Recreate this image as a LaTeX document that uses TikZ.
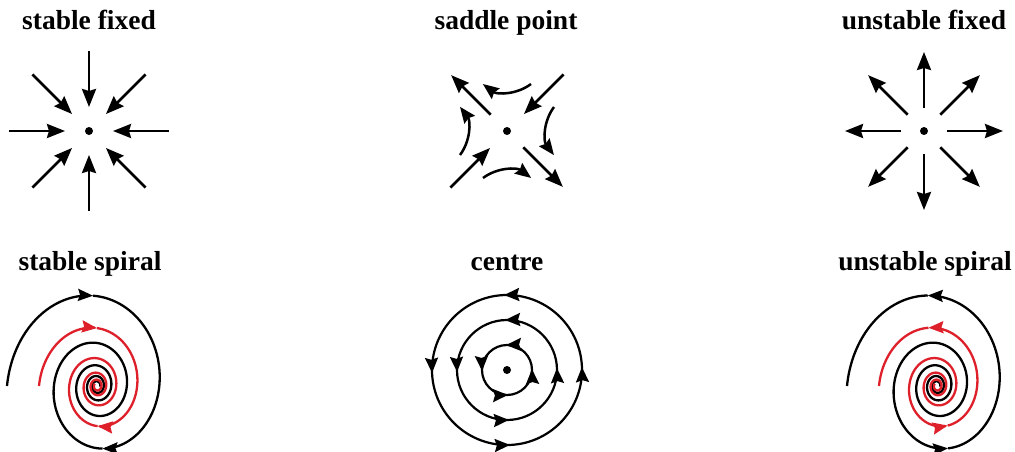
\documentclass[tikz,border=0pt]{standalone}
\usepackage{fontspec}
\setmainfont{Liberation Serif}
\definecolor{spiralred}{RGB}{222, 32, 42}
\usetikzlibrary{arrows.meta, calc, decorations.markings}
\tikzset{
	title/.style={anchor=base, inner sep=0pt, font=\fontsize{27.5}{30}\selectfont\bfseries},
	fixpt/.style={circle, fill=black, inner sep=0pt, minimum size=8pt},
	ray/.style={-{Stealth[length=18pt, width=14pt, inset=2pt]}, line width=2.7pt},
	flowcurve/.style={-{Stealth[length=16pt, width=13pt, inset=2pt]}, line width=2.5pt},
	orbit/.style={line width=2.2pt, postaction={decorate}, decoration={markings, mark=between positions 0.006 and 1 step 0.25 with {\arrow{Stealth[length=15pt, width=13pt, inset=2pt]}}}},
	spiralk/.style={line width=2.3pt, draw=black},
	spiralr/.style={line width=2.3pt, draw=spiralred},
	swirltip/.style={-{Stealth[length=15pt, width=12pt, inset=2pt]}},
}

\begin{document}
\begin{tikzpicture}[x=1pt, y=1pt, declare function={sdecay(\t)=exp(0.00205*(\t-180));}]
	\useasboundingbox (0,0) rectangle (1015,451);
	% top row
	\node[title] (t-sfix) at (89,421) {stable fixed};
	\node[title] (t-sadl) at (506,421) {saddle point};
	\node[title] (t-ufix) at (924,421) {unstable fixed};
	\node[fixpt] (sfix) at (89,320) {};
	\node[fixpt] (sadl) at (507,320) {};
	\node[fixpt] (ufix) at (924,320) {};
	\foreach \a in {0,45,...,315} {
		\draw[ray] ($(sfix)+(\a:80)$) -- ($(sfix)+(\a:24)$);
		\draw[ray] ($(ufix)+(\a:23)$) -- ($(ufix)+(\a:79)$);
	}
	\foreach \a in {45,225}
		\draw[ray] ($(sadl)+(\a:80)$) -- ($(sadl)+(\a:24)$);
	\foreach \a in {135,315}
		\draw[ray] ($(sadl)+(\a:23)$) -- ($(sadl)+(\a:79)$);
	\draw[flowcurve] ($(sadl)+(24,47)$) arc[start angle=-53, end angle=-127, radius=40];
	\draw[flowcurve] ($(sadl)+(47,24)$) arc[start angle=143, end angle=217, radius=40];
	\draw[flowcurve] ($(sadl)+(-24,-47)$) arc[start angle=127, end angle=53, radius=40];
	\draw[flowcurve] ($(sadl)+(-47,-24)$) arc[start angle=-37, end angle=37, radius=40];
	% bottom row
	\node[title] (t-sspir) at (90,181) {stable spiral};
	\node[title] (t-cen) at (507,181) {centre};
	\node[title] (t-uspir) at (925,181) {unstable spiral};
	\coordinate (sspir) at (97,65);
	\coordinate (uspir) at (937,65);
	\node[fixpt] (cen) at (507,81) {};
	\foreach \r in {25,50,75}
		\draw[orbit] (cen) circle[radius=\r];
	\begin{scope}[shift={(sspir)}, variable=\t]
		\draw[spiralk, swirltip] plot[domain=180:93, samples=40] ({90*sdecay(\t)*cos(\t)}, {108*sdecay(\t)*sin(\t)});
		\draw[spiralk, swirltip] plot[domain=93:-84, samples=60] ({90*sdecay(\t)*cos(\t)}, {108*sdecay(\t)*sin(\t)});
		\draw[spiralk] plot[domain=-84:-1450, samples=380] ({90*sdecay(\t)*cos(\t)}, {108*sdecay(\t)*sin(\t)});
		\draw[spiralr, swirltip] plot[domain=180:90, samples=40] ({58*sdecay(\t)*cos(\t)}, {69.6*sdecay(\t)*sin(\t)});
		\draw[spiralr, swirltip] plot[domain=90:-89, samples=60] ({58*sdecay(\t)*cos(\t)}, {69.6*sdecay(\t)*sin(\t)});
		\draw[spiralr] plot[domain=-89:-1300, samples=340] ({58*sdecay(\t)*cos(\t)}, {69.6*sdecay(\t)*sin(\t)});
	\end{scope}
	\begin{scope}[shift={(uspir)}, variable=\t]
		\draw[spiralk, swirltip] plot[domain=-1450:-78, samples=380] ({90*sdecay(\t)*cos(\t)}, {108*sdecay(\t)*sin(\t)});
		\draw[spiralk, swirltip] plot[domain=-78:97, samples=60] ({90*sdecay(\t)*cos(\t)}, {108*sdecay(\t)*sin(\t)});
		\draw[spiralk] plot[domain=97:180, samples=40] ({90*sdecay(\t)*cos(\t)}, {108*sdecay(\t)*sin(\t)});
		\draw[spiralr, swirltip] plot[domain=-1300:-72, samples=340] ({58*sdecay(\t)*cos(\t)}, {69.6*sdecay(\t)*sin(\t)});
		\draw[spiralr, swirltip] plot[domain=-72:100, samples=60] ({58*sdecay(\t)*cos(\t)}, {69.6*sdecay(\t)*sin(\t)});
		\draw[spiralr] plot[domain=100:180, samples=40] ({58*sdecay(\t)*cos(\t)}, {69.6*sdecay(\t)*sin(\t)});
	\end{scope}
\end{tikzpicture}
\end{document}
